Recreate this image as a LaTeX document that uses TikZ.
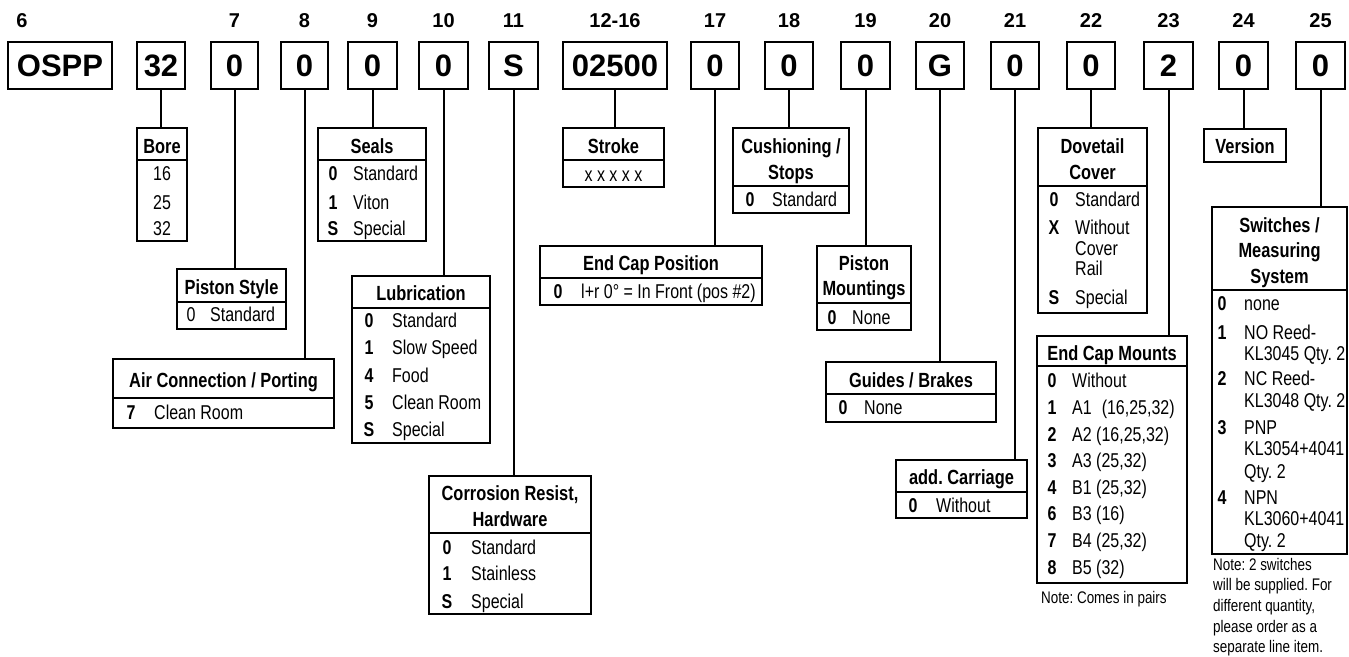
\documentclass[tikz,border=0pt]{standalone}
\usepackage{fontspec}
\setmainfont{Liberation Sans}
\newfontfamily\narrowfont[FakeStretch=0.8]{Liberation Sans}
\tikzset{
  frm/.style={draw=black, line width=1.3pt},
  tbl/.style={frm, rectangle, inner sep=0pt, outer sep=0pt, anchor=north west},
  topbox/.style={draw=black, line width=1.4pt, rectangle, inner sep=0pt, outer sep=0pt, anchor=north west, minimum height=47pt, font=\fontsize{31}{31}\selectfont\bfseries},
  conn/.style={line width=2pt},
  lbl/.style={anchor=base, inner sep=0pt, font=\fontsize{20}{20}\selectfont\bfseries},
  ttl/.style={anchor=base, inner sep=0pt, font=\narrowfont\fontsize{20.5}{20}\selectfont\bfseries},
  keyt/.style={anchor=base, inner sep=0pt, font=\narrowfont\fontsize{20}{20}\selectfont\bfseries},
  keyr/.style={anchor=base, inner sep=0pt, font=\narrowfont\fontsize{20}{20}\selectfont},
  valt/.style={anchor=base west, inner sep=0pt, font=\narrowfont\fontsize{20}{20}\selectfont},
  cval/.style={anchor=base, inner sep=0pt, font=\narrowfont\fontsize{20}{20}\selectfont},
  notet/.style={anchor=base west, inner sep=0pt, font=\narrowfont\fontsize{16.8}{16}\selectfont},
}
\newcommand{\krow}[6]{\node[keyt] (#1k) at (#2,#4) {#5}; \node[valt] (#1v) at (#3,#4) {#6};}
\begin{document}
\frenchspacing
\begin{tikzpicture}[x=1pt,y=-1pt]
\useasboundingbox (0,0) rectangle (1349,656);
\fill[white] (0,0) rectangle (1349,656);

% ---------- top labels ----------
\node[lbl] (l6)  at (22,27) {6};
\node[lbl] (l7)  at (234.5,27) {7};
\node[lbl] (l8)  at (304.5,27) {8};
\node[lbl] (l9)  at (372.5,27) {9};
\node[lbl] (l10) at (443.5,27) {10};
\node[lbl] (l11) at (513.5,27) {11};
\node[lbl] (l12) at (615,27) {12-16};
\node[lbl] (l17) at (715,27) {17};
\node[lbl] (l18) at (789,27) {18};
\node[lbl] (l19) at (865.5,27) {19};
\node[lbl] (l20) at (940,27) {20};
\node[lbl] (l21) at (1015,27) {21};
\node[lbl] (l22) at (1091,27) {22};
\node[lbl] (l23) at (1168.5,27) {23};
\node[lbl] (l24) at (1243.5,27) {24};
\node[lbl] (l25) at (1320.5,27) {25};

% ---------- top boxes ----------
\node[topbox, minimum width=104pt] (t6)  at (8,42) {OSPP};
\node[topbox, minimum width=48pt]  (t6b) at (137,42) {32};
\node[topbox, minimum width=47pt]  (t7)  at (211,42) {0};
\node[topbox, minimum width=47pt]  (t8)  at (281,42) {0};
\node[topbox, minimum width=49pt]  (t9)  at (348,42) {0};
\node[topbox, minimum width=49pt]  (t10) at (419,42) {0};
\node[topbox, minimum width=49pt]  (t11) at (489,42) {S};
\node[topbox, minimum width=104pt] (t12) at (563,42) {02500};
\node[topbox, minimum width=48pt]  (t17) at (691,42) {0};
\node[topbox, minimum width=48pt]  (t18) at (765,42) {0};
\node[topbox, minimum width=49pt]  (t19) at (841,42) {0};
\node[topbox, minimum width=48pt]  (t20) at (916,42) {G};
\node[topbox, minimum width=48pt]  (t21) at (991,42) {0};
\node[topbox, minimum width=48pt]  (t22) at (1067,42) {0};
\node[topbox, minimum width=49pt]  (t23) at (1144,42) {2};
\node[topbox, minimum width=49pt]  (t24) at (1219,42) {0};
\node[topbox, minimum width=49pt]  (t25) at (1296,42) {0};

% ---------- table frames ----------
\node[tbl, minimum width=50pt,  minimum height=113pt] (bore)    at (137,128) {};
\node[tbl, minimum width=108pt, minimum height=113pt] (seals)   at (318,128) {};
\node[tbl, minimum width=109pt, minimum height=60pt]  (pstyle)  at (177,269) {};
\node[tbl, minimum width=221pt, minimum height=69pt]  (air)     at (113,359) {};
\node[tbl, minimum width=138pt, minimum height=167pt] (lub)     at (352,276) {};
\node[tbl, minimum width=162pt, minimum height=138pt] (corr)    at (429,476) {};
\node[tbl, minimum width=101pt, minimum height=59pt]  (stroke)  at (563,128) {};
\node[tbl, minimum width=116pt, minimum height=85pt]  (cush)    at (733,128) {};
\node[tbl, minimum width=222pt, minimum height=59pt]  (ecpos)   at (540,246) {};
\node[tbl, minimum width=94pt,  minimum height=84pt]  (pmount)  at (817,246) {};
\node[tbl, minimum width=170pt, minimum height=60pt]  (guides)  at (826,362) {};
\node[tbl, minimum width=131pt, minimum height=58pt]  (addc)    at (896,460) {};
\node[tbl, minimum width=109pt, minimum height=185pt] (dove)    at (1038,128) {};
\node[tbl, minimum width=150pt, minimum height=247pt] (ecm)     at (1037,336) {};
\node[tbl, minimum width=82pt,  minimum height=33pt]  (version) at (1204,129) {};
\node[tbl, minimum width=135pt, minimum height=347pt] (sw)      at (1212,207) {};

% ---------- header dividers ----------
\foreach \t/\hy in {bore/160, seals/160, pstyle/302, air/398, lub/308, corr/533, stroke/160, cush/186, ecpos/278, pmount/303, guides/394, addc/492, dove/186, ecm/366, sw/290}
  \draw[frm] (\t.west |- 0,\hy) -- (\t.east |- 0,\hy);

% ---------- connectors ----------
\foreach \a/\b in {t6b/bore, t7/pstyle, t8/air, t9/seals, t10/lub, t11/corr, t12/stroke, t17/ecpos, t18/cush, t19/pmount, t20/guides, t21/addc, t22/dove, t23/ecm, t24/version, t25/sw}
  \draw[conn] (\a.south) -- (\a.south |- \b.north);

% ---------- titles ----------
\node[ttl] (bore-t)   at (162,153) {Bore};
\node[ttl] (seals-t)  at (372,153) {Seals};
\node[ttl] (pstyle-t) at (231.5,294) {Piston Style};
\node[ttl] (air-t)    at (223.5,387) {Air Connection / Porting};
\node[ttl] (lub-t)    at (421,300) {Lubrication};
\node[ttl] (corr-t1)  at (510,500) {Corrosion Resist,};
\node[ttl] (corr-t2)  at (510,526) {Hardware};
\node[ttl] (stroke-t) at (613.5,153) {Stroke};
\node[ttl] (cush-t1)  at (791,153) {Cushioning /};
\node[ttl] (cush-t2)  at (791,179) {Stops};
\node[ttl] (ecpos-t)  at (651,270) {End Cap Position};
\node[ttl] (pm-t1)    at (864,270) {Piston};
\node[ttl] (pm-t2)    at (864,295) {Mountings};
\node[ttl] (guides-t) at (911,387) {Guides / Brakes};
\node[ttl] (addc-t)   at (961.5,484) {add. Carriage};
\node[ttl] (dove-t1)  at (1092.5,153) {Dovetail};
\node[ttl] (dove-t2)  at (1092.5,179) {Cover};
\node[ttl] (ecm-t)    at (1112,360) {End Cap Mounts};
\node[ttl] (ver-t)    at (1245,153) {Version};
\node[ttl] (sw-t1)    at (1279.5,232) {Switches /};
\node[ttl] (sw-t2)    at (1279.5,257) {Measuring};
\node[ttl] (sw-t3)    at (1279.5,283) {System};

% ---------- rows ----------
\node[cval] (bore-1) at (162,180) {16};
\node[cval] (bore-2) at (162,209) {25};
\node[cval] (bore-3) at (162,235) {32};

\krow{seals1}{333}{353}{180}{0}{Standard}
\krow{seals2}{333}{353}{209}{1}{Viton}
\krow{seals3}{333}{353}{235}{S}{Special}

\node[keyr] (ps1k) at (191,321) {0};
\node[valt] (ps1v) at (210,321) {Standard};

\krow{air1}{131}{154}{419}{7}{Clean Room}

\krow{lub1}{369}{392}{327}{0}{Standard}
\krow{lub2}{369}{392}{354}{1}{Slow Speed}
\krow{lub3}{369}{392}{382}{4}{Food}
\krow{lub4}{369}{392}{409}{5}{Clean Room}
\krow{lub5}{369}{392}{436}{S}{Special}

\krow{corr1}{447}{471}{554}{0}{Standard}
\krow{corr2}{447}{471}{580}{1}{Stainless}
\krow{corr3}{447}{471}{608}{S}{Special}

\node[cval] (stroke-1) at (613.5,181) {x x x x x};

\krow{cush1}{750}{772}{206}{0}{Standard}

\krow{ecpos1}{558}{581}{298}{0}{l+r 0° = In Front (pos \#2)}

\krow{pm1}{832}{852}{324}{0}{None}

\krow{gd1}{843}{864}{414}{0}{None}

\krow{ad1}{913}{936}{512}{0}{Without}

\krow{dv1}{1054}{1075}{206}{0}{Standard}
\krow{dv2}{1054}{1075}{234}{X}{Without}
\node[valt] (dv2b) at (1075,255) {Cover};
\node[valt] (dv2c) at (1075,275) {Rail};
\krow{dv3}{1054}{1075}{304}{S}{Special}

\krow{ec0}{1052}{1072}{387}{0}{Without}
\krow{ec1}{1052}{1072}{414}{1}{A1\hspace{0.5em}(16,25,32)}
\krow{ec2}{1052}{1072}{441}{2}{A2 (16,25,32)}
\krow{ec3}{1052}{1072}{467}{3}{A3 (25,32)}
\krow{ec4}{1052}{1072}{494}{4}{B1 (25,32)}
\krow{ec6}{1052}{1072}{520}{6}{B3 (16)}
\krow{ec7}{1052}{1072}{547}{7}{B4 (25,32)}
\krow{ec8}{1052}{1072}{574}{8}{B5 (32)}
\node[notet] (ecnote) at (1041,603) {Note: Comes in pairs};

\krow{sw0}{1222}{1244}{310}{0}{none}
\krow{sw1}{1222}{1244}{339}{1}{NO Reed-}
\node[valt] (sw1b) at (1244,360) {KL3045 Qty. 2};
\krow{sw2}{1222}{1244}{385}{2}{NC Reed-}
\node[valt] (sw2b) at (1244,407) {KL3048 Qty. 2};
\krow{sw3}{1222}{1244}{434}{3}{PNP}
\node[valt] (sw3b) at (1244,455) {KL3054+4041};
\node[valt] (sw3c) at (1244,478) {Qty. 2};
\krow{sw4}{1222}{1244}{504}{4}{NPN}
\node[valt] (sw4b) at (1244,525) {KL3060+4041};
\node[valt] (sw4c) at (1244,547) {Qty. 2};

\node[notet] (swn1) at (1213,570) {Note: 2 switches};
\node[notet] (swn2) at (1213,590.7) {will be supplied. For};
\node[notet] (swn3) at (1213,611.4) {different quantity,};
\node[notet] (swn4) at (1213,632) {please order as a};
\node[notet] (swn5) at (1213,652.5) {separate line item.};
\end{tikzpicture}
\end{document}
